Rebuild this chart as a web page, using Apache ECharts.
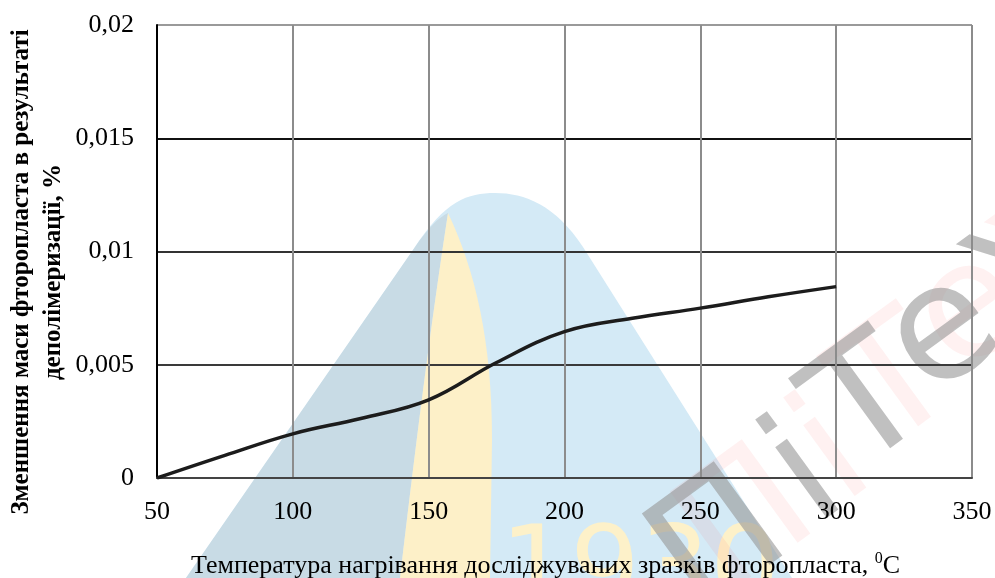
<!DOCTYPE html>
<html>
<head>
<meta charset="utf-8">
<script src="https://cdn.jsdelivr.net/npm/echarts@6/dist/echarts.min.js"></script>
<style>
  html, body { margin: 0; padding: 0; background: #fff; }
  #chart { width: 995px; height: 578px; }
</style>
</head>
<body>
<div id="chart"></div>
<script>
// Mass loss of fluoroplastic vs. heating temperature
const temperatures = [50, 75, 100, 125, 150, 175, 200, 225, 250, 275, 300];
const massLoss = [0, 0.001, 0.00195, 0.00263, 0.00345, 0.0051, 0.00646, 0.00705, 0.0075, 0.008, 0.00845];
const yTickLabels = ['0', '0,005', '0,01', '0,015', '0,02'];
const xTitle = 'Температура нагрівання досліджуваних зразків фторопласта, ';
const yTitleLines = ['Зменшення маси фторопласта в результаті', 'деполімеризації, %'];

const FONT = '"Liberation Serif", "Times New Roman", serif';
const chart = echarts.init(document.getElementById('chart'), null, { renderer: 'canvas' });

// Outline builder for the background emblem: straight segments and cubic curves
function outline(start, segments) {
  const pts = [start];
  let cur = start;
  segments.forEach(seg => {
    if (seg.length === 1) {
      pts.push(seg[0]);
      cur = seg[0];
    } else {
      const [c1, c2, end] = seg;
      for (let k = 1; k <= 16; k++) {
        const t = k / 16, u = 1 - t;
        pts.push([
          u * u * u * cur[0] + 3 * u * u * t * c1[0] + 3 * u * t * t * c2[0] + t * t * t * end[0],
          u * u * u * cur[1] + 3 * u * u * t * c1[1] + 3 * u * t * t * c2[1] + t * t * t * end[1]
        ]);
      }
      cur = end;
    }
  });
  return pts;
}

const bell = outline([186, 578], [
  [[413, 250]],
  [[445, 200], [468, 193], [495, 193]],
  [[525, 193], [555, 205], [583, 247]],
  [[792, 578]]
]);
const bellLeft = outline([186, 578], [
  [[413, 250]],
  [[428, 228], [438, 218], [448, 213]],
  [[430, 330], [415, 450], [400, 578]]
]);
const leaf = outline([448, 213], [
  [[475, 270], [492, 340], [492, 440]],
  [[490, 578]],
  [[400, 578]],
  [[415, 450], [430, 330], [448, 213]]
]);

// Diagonal emblem lettering, one glyph at a time
const emblemGlyphs = [
  { ch: 'П', x: 722, y: 548 },
  { ch: 'і', x: 808, y: 480 },
  { ch: 'Т', x: 872, y: 410 },
  { ch: 'е', x: 945, y: 336 },
  { ch: 'х', x: 1015, y: 258 }
];
const emblemText = [];
emblemGlyphs.forEach(g => {
  emblemText.push({
    type: 'text', z: -8, silent: true, x: g.x + 28, y: g.y - 22, rotation: Math.PI * 0.2,
    style: { text: g.ch, font: '160px "DejaVu Sans", sans-serif', fill: 'rgba(255,60,60,0.07)', align: 'center', verticalAlign: 'middle' }
  });
  emblemText.push({
    type: 'text', z: -7, silent: true, x: g.x, y: g.y, rotation: Math.PI * 0.2,
    style: { text: g.ch, font: '160px "DejaVu Sans", sans-serif', fill: 'rgba(150,150,150,0.6)', align: 'center', verticalAlign: 'middle' }
  });
});

const hLineColors = ['#3a3a3a', '#3a3a3a', '#333333', '#111111', '#9a9a9a'];

chart.setOption({
  animation: false,
  backgroundColor: '#ffffff',
  grid: { left: 157, top: 25, right: 23, bottom: 100 },
  xAxis: {
    type: 'value',
    min: 50, max: 350, interval: 50,
    axisLine: { show: true, lineStyle: { color: '#444', width: 2 } },
    axisTick: { show: false },
    axisLabel: { margin: 21, color: '#000', fontFamily: FONT, fontSize: 26 },
    splitLine: { show: true, lineStyle: { color: '#8c8c8c', width: 2 } }
  },
  yAxis: {
    type: 'value',
    min: 0, max: 0.02, interval: 0.005,
    axisLine: { show: true, lineStyle: { color: '#000', width: 2 } },
    axisTick: { show: false },
    axisLabel: {
      margin: 23, color: '#000', fontFamily: FONT, fontSize: 26,
      formatter: (v, i) => yTickLabels[i]
    },
    splitLine: { show: true, lineStyle: { color: hLineColors, width: 2 } }
  },
  graphic: [
    // background emblem
    { type: 'polygon', z: -10, silent: true, shape: { points: bell }, style: { fill: '#d4eaf6' } },
    { type: 'polygon', z: -9, silent: true, shape: { points: bellLeft }, style: { fill: '#c8dbe5' } },
    { type: 'polygon', z: -9, silent: true, shape: { points: leaf }, style: { fill: '#fdf0c8' } },
    {
      type: 'text', z: -8, silent: true, x: 500, y: 520,
      style: { text: '1930', font: '110px "DejaVu Sans", sans-serif', fill: '#fdf1c9' }
    },
    ...emblemText,
    // axis titles
    {
      type: 'text', x: 191, y: 551,
      style: {
        text: '{a|' + xTitle + '}{s|0}{a|C}',
        rich: {
          a: { fontFamily: FONT, fontSize: 26, fill: '#000', lineHeight: 30 },
          s: { fontFamily: FONT, fontSize: 16, fill: '#000', lineHeight: 30, verticalAlign: 'top', padding: [0, 0, 10, 0] }
        }
      }
    },
    {
      type: 'text', x: 22, y: 272, rotation: Math.PI / 2,
      style: {
        text: yTitleLines[0], fontFamily: FONT, fontWeight: 'bold', fontSize: 25, fill: '#000',
        align: 'center', verticalAlign: 'middle'
      }
    },
    {
      type: 'text', x: 54, y: 272, rotation: Math.PI / 2,
      style: {
        text: yTitleLines[1], fontFamily: FONT, fontWeight: 'bold', fontSize: 25, fill: '#000',
        align: 'center', verticalAlign: 'middle'
      }
    }
  ],
  series: [{
    type: 'line',
    data: temperatures.map((t, i) => [t, massLoss[i]]),
    smooth: 0.4,
    showSymbol: false,
    lineStyle: { color: '#1c1c1c', width: 3.5 },
    z: 5
  }]
});
</script>
</body>
</html>
